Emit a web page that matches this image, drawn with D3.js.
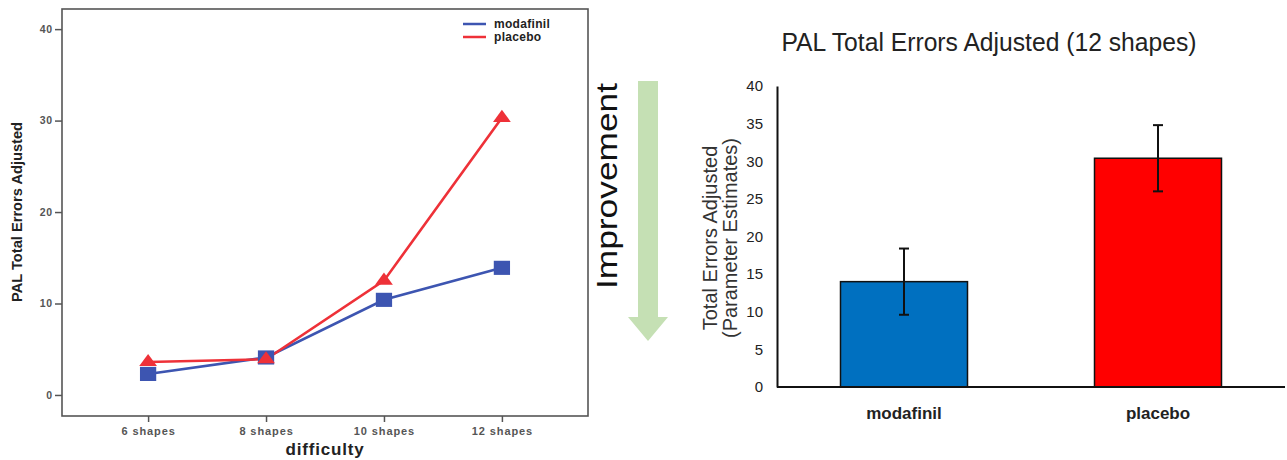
<!DOCTYPE html>
<html lang="en">
<head>
  <meta charset="UTF-8">
  <title>PAL Total Errors Adjusted</title>
  <script src="https://d3js.org/d3.v7.min.js"></script>
  <style>
    body { margin: 0; background: #fff; }
    svg text { font-family: "Liberation Sans", Arial, sans-serif; }
  </style>
</head>
<body>
  <svg width="1287" height="460"></svg>

  <script>
    // left panel: line chart by difficulty
    const difficulty = ["6 shapes", "8 shapes", "10 shapes", "12 shapes"];
    const modafinilErrors = [2.3, 4.1, 10.4, 13.9];
    const placeboErrors = [3.6, 3.9, 12.5, 30.3];
    const leftTicks = [0, 10, 20, 30, 40];

    // right panel: bar chart at 12 shapes
    const groups = ["modafinil", "placebo"];
    const estimates = [14.0, 30.4];
    const stdErrors = [4.4, 4.4];
    const rightTicks = [0, 5, 10, 15, 20, 25, 30, 35, 40];

    const blue = "#3d55b1", red = "#ee3138";
    const svg = d3.select("svg");

    // ---------- left chart ----------
    const L = { left: 62, right: 588, top: 9, bottom: 416 };

    const x1 = d3.scalePoint()
      .domain(difficulty)
      .range([L.left, L.right])
      .padding(0.73);

    const y1 = d3.scaleLinear()
      .domain([-2.3, 42.2])
      .range([L.bottom, L.top]);

    // frame
    svg.append("rect")
      .attr("x", L.left).attr("y", L.top)
      .attr("width", L.right - L.left).attr("height", L.bottom - L.top)
      .attr("fill", "none").attr("stroke", "#555").attr("stroke-width", 1.6);

    const yAxis1 = svg.append("g")
      .attr("transform", `translate(${L.left},0)`)
      .call(d3.axisLeft(y1).tickValues(leftTicks).tickSize(7).tickPadding(2));
    yAxis1.select(".domain").remove();
    yAxis1.selectAll(".tick line").attr("stroke", "#555").attr("stroke-width", 1.5);
    yAxis1.selectAll(".tick text")
      .attr("fill", "#555").style("font-size", "10.5px").style("font-weight", "bold")
      .style("letter-spacing", "0.8px");

    const xAxis1 = svg.append("g")
      .attr("transform", `translate(0,${L.bottom})`)
      .call(d3.axisBottom(x1).tickSize(6).tickPadding(5));
    xAxis1.select(".domain").remove();
    xAxis1.selectAll(".tick line").attr("stroke", "#555").attr("stroke-width", 1.5);
    xAxis1.selectAll(".tick text")
      .attr("fill", "#555").style("font-size", "11px").style("font-weight", "bold")
      .style("letter-spacing", "0.9px");

    svg.append("text")
      .attr("x", (L.left + L.right) / 2).attr("y", 455)
      .attr("text-anchor", "middle")
      .style("font-size", "17px").style("font-weight", "bold")
      .style("letter-spacing", "0.8px").attr("fill", "#222")
      .text("difficulty");

    svg.append("text")
      .attr("transform", `translate(22,212) rotate(-90)`)
      .attr("text-anchor", "middle")
      .attr("textLength", 180).attr("lengthAdjust", "spacingAndGlyphs")
      .style("font-size", "15px").style("font-weight", "bold").attr("fill", "#222")
      .text("PAL Total Errors Adjusted");

    const line = d3.line()
      .x((d, i) => x1(difficulty[i]))
      .y(d => y1(d));

    svg.append("path").datum(modafinilErrors)
      .attr("d", line).attr("fill", "none")
      .attr("stroke", blue).attr("stroke-width", 2.6);
    svg.append("path").datum(placeboErrors)
      .attr("d", line).attr("fill", "none")
      .attr("stroke", red).attr("stroke-width", 2.6);

    svg.append("g").selectAll("path")
      .data(modafinilErrors)
      .join("path")
      .attr("transform", (d, i) => `translate(${x1(difficulty[i])},${y1(d)}) scale(1.15,1)`)
      .attr("d", d3.symbol(d3.symbolSquare, 200))
      .attr("fill", blue);

    svg.append("g").selectAll("path")
      .data(placeboErrors)
      .join("path")
      .attr("transform", (d, i) => `translate(${x1(difficulty[i])},${y1(d)}) scale(1.2,0.95)`)
      .attr("d", d3.symbol(d3.symbolTriangle, 95))
      .attr("fill", red);

    // legend
    const legend = svg.append("g").attr("transform", "translate(463,24)");
    [["modafinil", blue], ["placebo", red]].forEach(([name, color], i) => {
      legend.append("line")
        .attr("x1", 0).attr("x2", 23).attr("y1", i * 13).attr("y2", i * 13)
        .attr("stroke", color).attr("stroke-width", 2.5);
      legend.append("text")
        .attr("x", 31).attr("y", i * 13 + 4)
        .style("font-size", "12px").style("font-weight", "bold").attr("fill", "#222")
        .style("letter-spacing", "0.3px")
        .text(name);
    });

    // ---------- improvement arrow ----------
    svg.append("text")
      .attr("transform", "translate(617,186) rotate(-90)")
      .attr("text-anchor", "middle")
      .attr("textLength", 206).attr("lengthAdjust", "spacingAndGlyphs")
      .style("font-size", "29px").attr("fill", "#111")
      .text("Improvement");

    svg.append("path")
      .attr("d", "M638,81 H658 V317 H668 L648,341 L628,317 H638 Z")
      .attr("fill", "#c5e0b4");

    // ---------- right chart ----------
    const R = { left: 777, right: 1285, top: 86, bottom: 387 };

    const x2 = d3.scaleBand()
      .domain(groups)
      .range([R.left, R.right])
      .paddingInner(0.5)
      .paddingOuter(0.25);

    const y2 = d3.scaleLinear()
      .domain([0, 40])
      .range([R.bottom, R.top]);

    svg.append("text")
      .attr("x", 989).attr("y", 51)
      .attr("text-anchor", "middle")
      .attr("textLength", 415).attr("lengthAdjust", "spacingAndGlyphs")
      .style("font-size", "25px").attr("fill", "#222")
      .text("PAL Total Errors Adjusted (12 shapes)");

    svg.append("g").selectAll("rect")
      .data(estimates)
      .join("rect")
      .attr("x", (d, i) => x2(groups[i]))
      .attr("y", d => y2(d))
      .attr("width", x2.bandwidth())
      .attr("height", d => y2(0) - y2(d))
      .attr("fill", (d, i) => i === 0 ? "#0070c0" : "#ff0000")
      .attr("stroke", "#111").attr("stroke-width", 1.5);

    // error bars
    const eb = svg.append("g").attr("stroke", "#111").attr("stroke-width", 2);
    estimates.forEach((m, i) => {
      const cx = x2(groups[i]) + x2.bandwidth() / 2;
      eb.append("line").attr("x1", cx).attr("x2", cx)
        .attr("y1", y2(m + stdErrors[i])).attr("y2", y2(m - stdErrors[i]));
      [m + stdErrors[i], m - stdErrors[i]].forEach(v => {
        eb.append("line").attr("x1", cx - 5).attr("x2", cx + 5)
          .attr("y1", y2(v)).attr("y2", y2(v));
      });
    });

    const yAxis2 = svg.append("g")
      .attr("transform", `translate(${R.left},0)`)
      .call(d3.axisLeft(y2).tickValues(rightTicks).tickSize(0).tickPadding(14));
    yAxis2.select(".domain").attr("stroke", "#111").attr("stroke-width", 2);
    yAxis2.selectAll(".tick text")
      .attr("fill", "#222").style("font-size", "15px");

    svg.append("line")
      .attr("x1", R.left).attr("x2", R.right)
      .attr("y1", y2(0)).attr("y2", y2(0))
      .attr("stroke", "#111").attr("stroke-width", 2);

    svg.append("g").selectAll("text")
      .data(groups)
      .join("text")
      .attr("x", d => x2(d) + x2.bandwidth() / 2)
      .attr("y", 419)
      .attr("text-anchor", "middle")
      .style("font-size", "17px").style("font-weight", "bold").attr("fill", "#222")
      .text(d => d);

    const yTitle = svg.append("text")
      .attr("transform", "translate(717,238) rotate(-90)")
      .attr("text-anchor", "middle")
      .style("font-size", "20px").attr("fill", "#333");
    yTitle.append("tspan").attr("x", 0).attr("dy", 0).text("Total Errors Adjusted");
    yTitle.append("tspan").attr("x", 0).attr("dy", 20).text("(Parameter Estimates)");
  </script>
</body>
</html>
